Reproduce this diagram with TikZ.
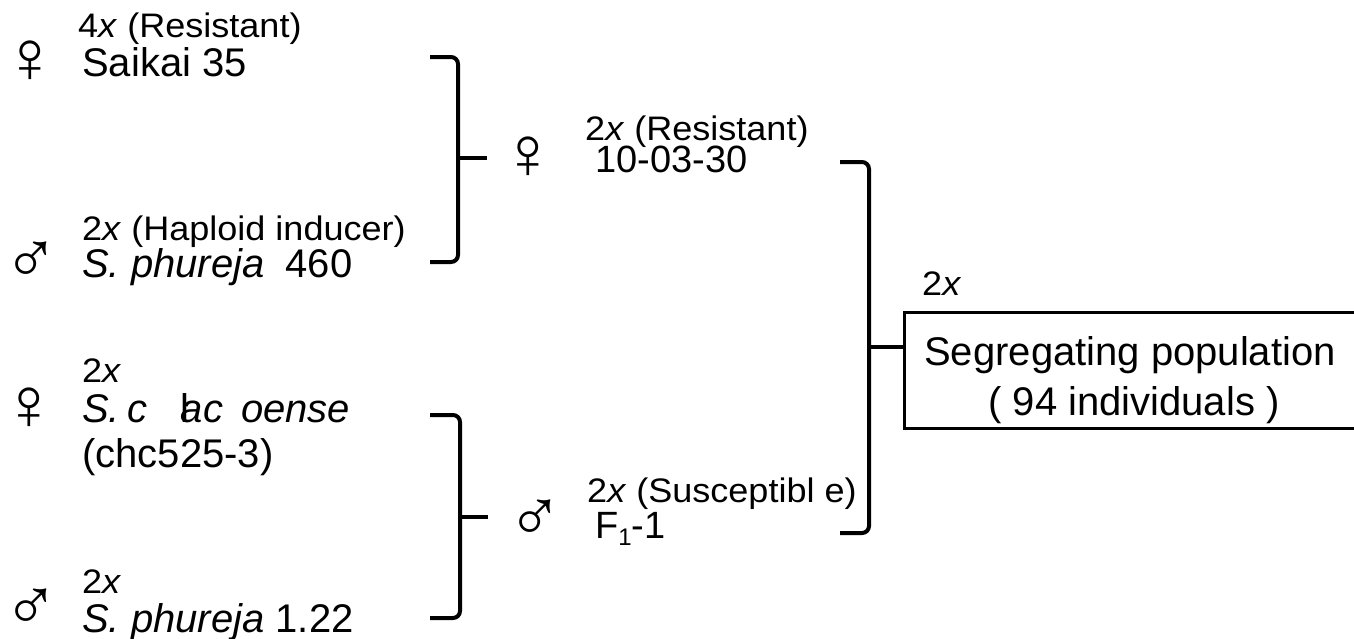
\documentclass[tikz,border=0pt]{standalone}
\usepackage{fontspec}
\setmainfont{Liberation Sans}
\newfontfamily\smallfam[FakeStretch=1.06]{Liberation Sans}
\newfontfamily\symfam{Liberation Serif}
\begin{document}
\begin{tikzpicture}[x=1pt,y=-1pt,
  big/.style={font=\fontsize{40}{48}\selectfont, inner sep=0pt, anchor=base west},
  midtxt/.style={font=\fontsize{38}{46}\selectfont, inner sep=0pt, anchor=base west},
  smalltxt/.style={font=\smallfam\fontsize{34}{40}\selectfont, inner sep=0pt, anchor=base west},
  sexsym/.style={font=\symfam\fontsize{74}{80}\selectfont, inner sep=0pt, anchor=center},
  bracket/.style={line width=4pt, rounded corners=7pt},
  tickline/.style={line width=4pt},
  popbox/.style={draw, line width=2.6pt, inner sep=0pt, anchor=north west,
                 minimum width=480pt, minimum height=116pt},
  poptxt/.style={font=\fontsize{40}{48}\selectfont, inner sep=0pt, anchor=base}]
\useasboundingbox (0,0) rectangle (1354,638);
\clip (0,0) rectangle (1354,638);
\fill[white] (0,0) rectangle (1354,638);

% left column
\node[smalltxt] (s1) at (78,37) {4\textit{x} (Resistant)};
\node[big] (n1) at (82,76) {Saikai 35};
\node[sexsym] (f1) at (30,62) {♀};

\node[smalltxt] (s2) at (82,240) {2\textit{x} (Haploid inducer)};
\node[big] (n2) at (82,277) {\textit{S. phureja}\hspace{21pt}460};
\node[sexsym] (m1) at (31,263) {♂};

\node[smalltxt] (s3) at (82,382) {2\textit{x}};
\node[big] (n3) at (82,422) {\textit{S.\hspace{7pt}c\hspace{34pt}\rlap{\upshape l}ac\hspace{18pt}oense}};
\node[big] (n4) at (82,467) {(chc525-3)};
\node[sexsym] (f2) at (29,409) {♀};

\node[smalltxt] (s4) at (82,593) {2\textit{x}};
\node[big] (n5) at (82,632) {\textit{S. phureja} 1.22};
\node[sexsym] (m2) at (31,610) {♂};

% middle column
\node[smalltxt] (s5) at (585,140) {2\textit{x} (Resistant)};
\node[midtxt] (n6) at (595,172) {10-03-30};
\node[sexsym] (f3) at (528,158) {♀};

\node[smalltxt] (s6) at (587,502) {2\textit{x} (Susceptibl e)};
\node[midtxt] (n7) at (595,538) {F\raisebox{-7pt}{\fontsize{24}{24}\selectfont 1}-1};
\node[sexsym] (m3) at (535,521) {♂};

% right
\node[smalltxt] (s7) at (922,295) {2\textit{x}};
\node[popbox] (box) at (903,311) {};
\node[poptxt] (p1) at (1130,365) {Segregating population};
\node[poptxt] (p2) at (1134,415) {( 94 individuals )};

% brackets
\coordinate (b1a) at (430,57);  \coordinate (b1b) at (430,262);
\coordinate (b1v) at (458,0);   \coordinate (b1m) at (487,158);
\draw[bracket] (b1a) -- (b1a -| b1v) -- (b1b -| b1v) -- (b1b);
\draw[tickline] (b1v |- b1m) -- (b1m);

\coordinate (b2a) at (430,415); \coordinate (b2b) at (430,618);
\coordinate (b2v) at (460,0);   \coordinate (b2m) at (488,517);
\draw[bracket] (b2a) -- (b2a -| b2v) -- (b2b -| b2v) -- (b2b);
\draw[tickline] (b2v |- b2m) -- (b2m);

\coordinate (b3a) at (840,162); \coordinate (b3b) at (840,533);
\coordinate (b3v) at (869,0);   \coordinate (b3m) at (869,347);
\draw[bracket] (b3a) -- (b3a -| b3v) -- (b3b -| b3v) -- (b3b);
\draw[tickline] (b3m) -- (b3m -| box.west);
\end{tikzpicture}
\end{document}
